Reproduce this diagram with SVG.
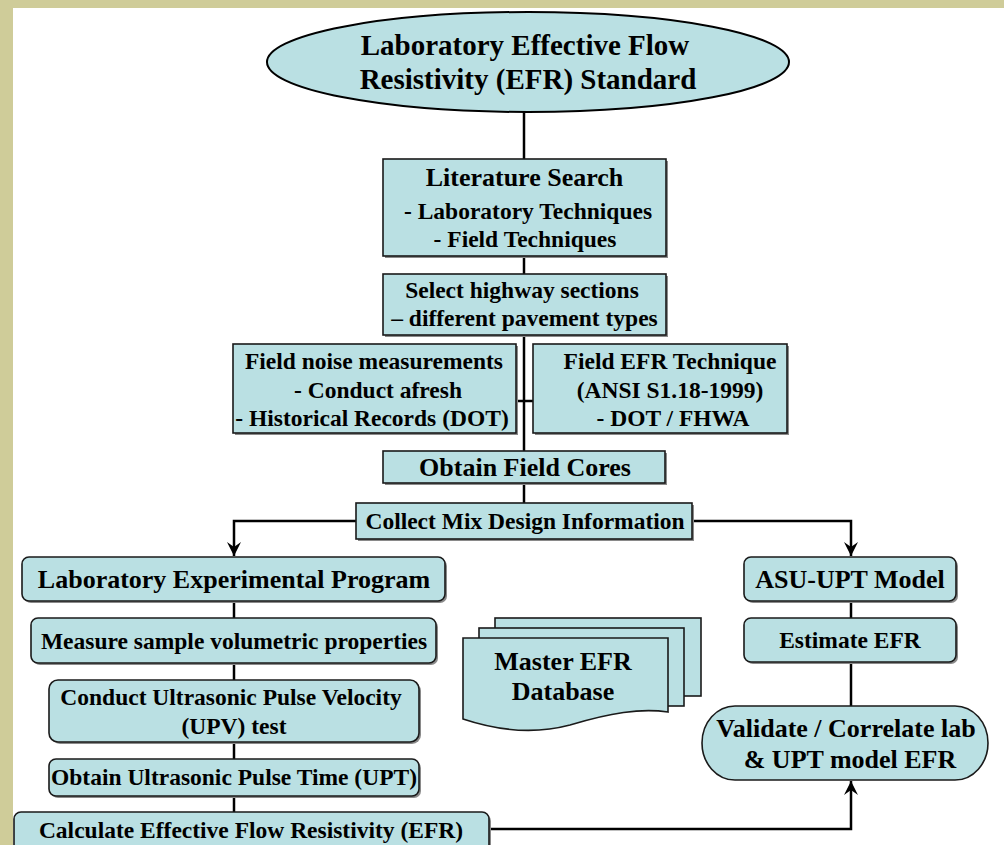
<svg xmlns="http://www.w3.org/2000/svg" width="1004" height="845" viewBox="0 0 1004 845">
<defs>
<style>
.bx{fill:#BAE0E3;stroke:#1a1a1a;stroke-width:1.6}
.sh{fill:#8a8a8a}
.t{font-family:"Liberation Serif","Times New Roman",serif;font-weight:bold;fill:#000;text-anchor:middle}
.s{font-size:23.5px}
.h{font-size:26px}
.c{fill:none;stroke:#000;stroke-width:2.5}
</style>
<marker id="ar" viewBox="-15 -8 16 16" refX="0" refY="0" markerWidth="16" markerHeight="16" markerUnits="userSpaceOnUse" orient="auto">
<path d="M0,0 L-14,-7 L-9,0 L-14,7 Z" fill="#000"/>
</marker>
</defs>
<rect x="0" y="0" width="1004" height="845" fill="#fff"/>
<rect x="0" y="0" width="1004" height="8" fill="#CFCC99"/>
<rect x="0" y="0" width="13" height="845" fill="#CFCC99"/>

<g id="connectors">
<path class="c" d="M524,112 V159"/>
<path class="c" d="M524,256 V274"/>
<path class="c" d="M524,335 V451"/>
<path class="c" d="M516,401 H533"/>
<path class="c" d="M524,483 V503"/>
<path class="c" d="M356,521 H234 V556" marker-end="url(#ar)"/>
<path class="c" d="M692,521 H851 V556" marker-end="url(#ar)"/>
<path class="c" d="M234,601 V618"/>
<path class="c" d="M234,663 V680"/>
<path class="c" d="M234,742 V759"/>
<path class="c" d="M234,796 V812"/>
<path class="c" d="M851,601 V618"/>
<path class="c" d="M851,662 V706"/>
<path class="c" d="M489,829 H851 V781" marker-end="url(#ar)"/>
</g>

<g id="title">
<ellipse cx="528" cy="62" rx="261" ry="50" fill="#BAE0E3" stroke="#000" stroke-width="2"/>
<text class="t" x="525" y="55" font-size="29">Laboratory Effective Flow</text>
<text class="t" x="528" y="89" font-size="29">Resistivity (EFR) Standard</text>
</g>

<g id="literature">
<rect class="sh" x="385" y="161" width="283" height="97"/>
<rect class="bx" x="383" y="159" width="283" height="97"/>
<text class="t h" x="524.5" y="186">Literature Search</text>
<text class="t s" x="528" y="219">- Laboratory Techniques</text>
<text class="t s" x="525" y="247">- Field Techniques</text>
</g>

<g id="select">
<rect class="sh" x="385" y="276" width="283" height="61"/>
<rect class="bx" x="383" y="274" width="283" height="61"/>
<text class="t s" x="522" y="298">Select highway sections</text>
<text class="t s" x="524.5" y="326">– different pavement types</text>
</g>

<g id="fieldnoise">
<rect class="sh" x="235" y="346" width="283" height="89"/>
<rect class="bx" x="233" y="344" width="283" height="89"/>
<text class="t s" x="374" y="369">Field noise measurements</text>
<text class="t s" x="378" y="398">- Conduct afresh</text>
<text class="t s" x="372" y="426">- Historical Records (DOT)</text>
</g>

<g id="fieldefr">
<rect class="sh" x="535" y="346" width="254" height="89"/>
<rect class="bx" x="533" y="344" width="254" height="89"/>
<text class="t s" x="670" y="369">Field EFR Technique</text>
<text class="t s" x="670" y="398">(ANSI S1.18-1999)</text>
<text class="t s" x="673" y="426">- DOT / FHWA</text>
</g>

<g id="cores">
<rect class="sh" x="385" y="453" width="282" height="32"/>
<rect class="bx" x="383" y="451" width="282" height="32"/>
<text class="t h" x="525" y="476">Obtain Field Cores</text>
</g>

<g id="mix">
<rect class="sh" x="358" y="505" width="336" height="36"/>
<rect class="bx" x="356" y="503" width="336" height="36"/>
<text class="t s" x="525" y="529">Collect Mix Design Information</text>
</g>

<g id="labprog">
<rect class="sh" x="24" y="559" width="423" height="44" rx="7"/>
<rect class="bx" x="22" y="557" width="423" height="44" rx="7"/>
<text class="t h" x="234" y="588">Laboratory Experimental Program</text>
</g>

<g id="measure">
<rect class="sh" x="33" y="620" width="405" height="45" rx="7"/>
<rect class="bx" x="31" y="618" width="405" height="45" rx="7"/>
<text class="t s" x="234" y="649">Measure sample volumetric properties</text>
</g>

<g id="upv">
<rect class="sh" x="51" y="682" width="370" height="62" rx="9"/>
<rect class="bx" x="49" y="680" width="370" height="62" rx="9"/>
<text class="t s" x="231" y="705">Conduct Ultrasonic Pulse Velocity</text>
<text class="t s" x="234" y="734">(UPV) test</text>
</g>

<g id="upt">
<rect class="sh" x="51" y="761" width="370" height="37" rx="7"/>
<rect class="bx" x="49" y="759" width="370" height="37" rx="7"/>
<text class="t s" x="234" y="785">Obtain Ultrasonic Pulse Time (UPT)</text>
</g>

<g id="calc">
<rect class="sh" x="16" y="814" width="475" height="50" rx="7"/>
<rect class="bx" x="14" y="812" width="475" height="50" rx="7"/>
<text class="t s" x="251" y="838">Calculate Effective Flow Resistivity (EFR)</text>
</g>

<g id="database">
<rect class="bx" x="495" y="618" width="206" height="78"/>
<rect class="bx" x="479" y="628" width="205" height="78"/>
<path class="bx" d="M463,638 H668 V712 C640,708 610,713 570,725 C540,733 505,733 463,719 Z"/>
<text class="t h" x="563" y="670">Master EFR</text>
<text class="t h" x="563" y="700">Database</text>
</g>

<g id="asu">
<rect class="sh" x="746" y="559" width="212" height="44" rx="7"/>
<rect class="bx" x="744" y="557" width="212" height="44" rx="7"/>
<text class="t h" x="850" y="588">ASU-UPT Model</text>
</g>

<g id="estimate">
<rect class="sh" x="746" y="620" width="212" height="44" rx="7"/>
<rect class="bx" x="744" y="618" width="212" height="44" rx="7"/>
<text class="t s" x="850" y="648">Estimate EFR</text>
</g>

<g id="validate">
<path class="bx" d="M735,706 H955 A33,37 0 0 1 955,780 H735 A33,37 0 0 1 735,706 Z"/>
<text class="t h" x="846" y="737">Validate / Correlate lab</text>
<text class="t h" x="850" y="768">&amp; UPT model EFR</text>
</g>
</svg>
